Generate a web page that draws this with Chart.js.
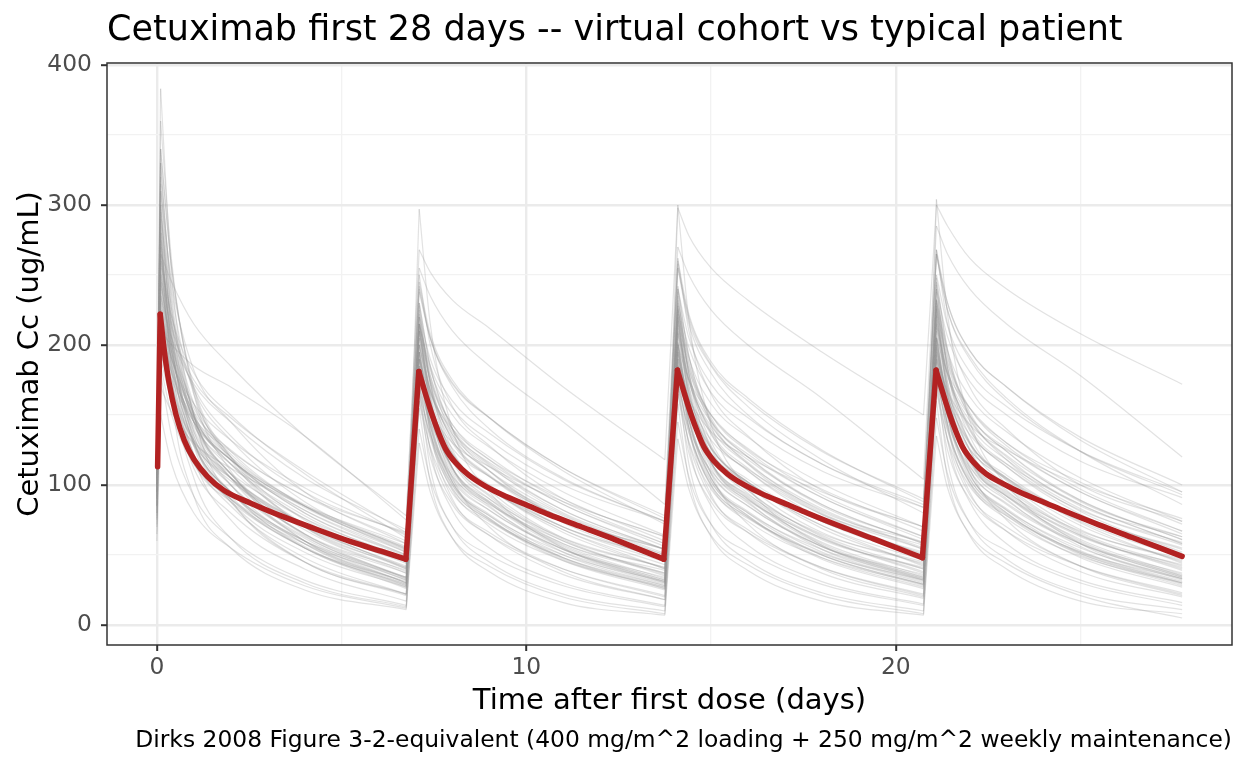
<!DOCTYPE html>
<html>
<head>
<meta charset="utf-8">
<script src="https://cdn.jsdelivr.net/npm/chart.js@4.4.1/dist/chart.umd.min.js"></script>
<style>
  body { margin: 0; background: #fff; }
  #wrap { width: 1248px; height: 768px; }
</style>
</head>
<body>
<div id="wrap"><canvas id="pkChart"></canvas></div>
<script>
// Texts
const chartTitle = 'Cetuximab first 28 days -- virtual cohort vs typical patient';
const xTitle = 'Time after first dose (days)';
const yTitle = 'Cetuximab Cc (ug/mL)';
const caption = 'Dirks 2008 Figure 3-2-equivalent (400 mg/m^2 loading + 250 mg/m^2 weekly maintenance)';

// Tick positions (labels on majors only)
const xTicks = [0, 5, 10, 15, 20, 25];
const yTicks = [0, 50, 100, 150, 200, 250, 300, 350, 400];

// Typical patient (red line)
const typicalTime = [0.02, 0.09, 0.2, 0.33, 0.51, 0.74, 1.01, 1.37, 1.82, 2.54, 3.45, 4.35, 5.25, 6.15, 6.74,
  7.09, 7.27, 7.45, 7.63, 7.81, 8.08, 8.44, 8.9, 9.35, 10.07, 10.6, 11.5, 12.4, 13.72,
  14.09, 14.27, 14.45, 14.63, 14.81, 15.08, 15.44, 15.9, 16.35, 17.07, 17.6, 18.5, 19.4, 20.72,
  21.09, 21.27, 21.45, 21.63, 21.81, 22.08, 22.44, 22.9, 23.35, 24.07, 24.6, 25.5, 26.4, 27.75];
const typicalConc = [113, 222, 196, 173, 151, 132, 118, 106, 96, 87, 77, 68, 59.5, 52, 47,
  181, 165, 150, 137, 126, 116, 107, 99, 93, 85, 79, 70, 61, 47,
  182, 166, 151, 138, 127, 117, 108, 100, 94, 86, 80, 70.5, 61.5, 48,
  182, 166, 151, 138, 127, 117, 108, 101, 95, 87, 81, 71.5, 62.5, 49];
const typicalPeakIdx = [1, 15, 29, 43];

// Virtual cohort: sampling times shared by every subject
const cohortTime = [0,
  0.1, 0.4, 1, 2, 4, 6.75,
  7.1, 7.4, 8, 9, 11, 13.75,
  14.1, 14.4, 15, 16, 18, 20.75,
  21.1, 21.4, 22, 23, 25, 27.75];
const cohortPeakIdx = [1, 7, 13, 19];

// one row per virtual patient, concentration at cohortTime
const cohort = [
  [100, 383,250,150,90,45,22, 215,155,105,70,38,18, 222,160,108,72,40,20, 228,165,112,75,42,21],
  [118, 320,240,165,120,75,45, 230,185,140,110,75,50, 240,192,146,115,80,54, 245,196,150,118,83,57],
  [85, 260,215,170,135,95,65, 240,205,170,140,105,74, 255,215,180,150,115,84, 265,225,190,160,124,93],
  [100, 240,185,130,95,60,30, 170,135,100,78,52,30, 175,138,102,80,54,32, 178,140,104,82,55,33],
  [128, 280,195,120,75,40,17, 180,125,82,55,30,14, 185,128,85,57,31,15, 190,132,88,58,32,16],
  [72, 200,175,145,118,85,55, 190,165,140,118,90,60, 200,175,150,125,97,67, 205,180,155,130,102,72],
  [112, 340,255,170,120,70,38, 228,172,120,92,60,37, 238,178,126,96,64,40, 243,182,130,100,66,42],
  [95, 230,190,148,118,80,50, 190,155,122,98,70,48, 195,160,126,102,74,52, 200,164,130,105,77,55],
  [105, 300,205,128,88,52,27, 195,145,102,76,48,27, 200,148,105,78,50,29, 205,152,108,80,52,30],
  [80, 265,245,215,185,135,78, 255,235,210,185,145,86, 270,250,225,200,162,104, 285,265,240,215,178,120],
  [125, 270,185,122,90,58,34, 190,145,106,82,54,34, 195,148,109,85,56,36, 198,150,111,86,58,37],
  [90, 220,165,112,80,45,22, 160,120,86,64,40,21, 165,123,88,66,41,22, 168,125,90,67,42,23],
  [110, 330,235,150,108,65,37, 220,163,117,90,58,37, 228,170,122,94,62,40, 232,173,125,96,64,41],
  [75, 190,160,128,105,72,45, 170,145,117,98,70,47, 178,150,122,102,74,51, 182,154,125,105,77,54],
  [100, 260,220,180,150,108,62, 245,208,175,148,110,72, 258,218,185,156,118,80, 265,225,192,162,124,86],
  [120, 290,180,105,62,30,13, 170,112,70,45,22,10, 175,115,72,46,23,10, 178,117,73,47,23,11],
  [85, 245,195,138,105,65,39, 190,150,112,88,58,39, 198,155,116,92,61,41, 200,157,118,94,63,43],
  [128, 310,245,182,145,95,58, 250,200,156,128,90,63, 262,210,165,135,96,70, 268,215,170,140,100,74],
  [95, 210,180,148,124,92,66, 215,185,155,132,100,74, 230,198,166,142,110,84, 240,206,174,150,117,91],
  [105, 275,200,132,95,55,29, 185,138,96,72,46,27, 190,141,99,74,48,29, 193,143,101,76,49,30],
  [65, 180,135,92,62,32,14, 140,104,70,50,28,13, 145,106,72,52,29,14, 148,108,73,53,30,14],
  [115, 340,255,168,118,70,41, 225,173,125,96,62,41, 235,180,131,100,66,45, 240,184,135,103,68,47],
  [90, 235,205,172,145,105,68, 238,205,173,148,112,78, 255,220,186,160,124,90, 265,230,196,170,134,100],
  [100, 265,220,168,132,88,54, 220,178,136,110,76,54, 232,188,144,116,81,59, 238,193,148,120,85,63],
  [125, 300,210,132,88,45,21, 195,138,90,64,36,18, 200,141,93,66,37,19, 204,143,95,67,38,20],
  [80, 225,190,158,132,98,64, 222,190,160,137,104,74, 240,205,172,148,115,86, 250,214,181,156,124,95],
  [110, 255,205,158,124,85,54, 210,168,130,106,76,54, 220,175,136,110,79,57, 225,179,139,113,82,59],
  [95, 215,170,122,90,55,31, 170,133,97,75,50,31, 175,137,100,77,51,32, 178,139,102,79,52,33],
  [118, 295,225,158,120,80,49, 230,184,140,114,80,54, 242,192,148,120,85,59, 248,197,152,124,88,63],
  [70, 170,152,130,112,85,58, 175,153,130,113,88,63, 185,162,138,120,95,70, 190,167,143,125,100,76],
  [100, 245,200,146,112,72,41, 195,153,112,90,62,41, 202,158,116,93,65,44, 206,161,119,95,67,46],
  [135, 280,165,92,55,25,11, 155,102,62,38,16,7, 158,104,63,39,17,7, 160,105,64,40,17,8],
  [85, 210,200,185,170,135,75, 268,252,232,212,170,118, 298,278,255,232,195,150, 300,285,262,240,208,172],
  [105, 250,212,175,148,110,66, 242,205,172,148,112,76, 260,222,188,162,125,88, 268,230,196,170,132,95],
  [60, 150,115,80,55,28,12, 130,95,62,42,20,8, 133,97,64,43,21,8, 135,98,65,44,21,5],
  [110, 360,260,165,110,60,30, 297,215,140,95,55,30, 300,218,143,98,57,32, 304,222,146,100,58,33],
  [95, 250,195,140,105,72,40, 200,160,122,98,68,40, 208,166,127,102,71,42, 212,170,130,105,73,44],
  [108, 290,210,145,105,65,33, 205,155,112,88,56,32, 212,160,116,91,58,34, 216,163,118,93,60,35],
  [88, 215,180,142,115,82,52, 200,168,138,116,86,56, 210,176,145,122,91,61, 215,180,149,126,95,65],
  [102, 235,180,128,95,60,32, 180,142,104,82,54,31, 186,146,108,85,56,33, 190,149,110,87,58,34],
  [120, 310,220,145,100,58,28, 200,148,102,78,48,26, 206,152,105,80,50,28, 210,155,108,82,51,29],
  [78, 195,165,132,108,76,48, 182,155,126,106,78,50, 190,162,132,111,82,54, 195,166,136,115,86,58],
  [115, 275,205,145,108,70,40, 210,165,123,98,66,40, 218,171,128,102,69,43, 222,174,131,104,71,45],
  [92, 225,185,145,118,85,55, 210,175,143,120,88,58, 220,183,150,126,93,63, 226,188,155,130,97,67],
  [105, 255,190,130,92,55,26, 180,138,98,75,46,25, 185,141,100,77,47,26, 188,143,102,78,48,27],
  [98, 245,200,155,122,85,52, 215,175,140,115,82,54, 225,183,146,120,86,58, 230,187,150,124,89,61],
  [130, 330,230,150,105,60,30, 215,160,112,85,52,29, 222,165,116,88,54,31, 226,168,118,90,56,32],
  [82, 205,170,130,103,70,42, 180,150,118,97,68,43, 188,156,123,101,71,46, 192,160,126,104,74,48],
  [110, 265,205,150,115,78,46, 215,172,132,107,75,47, 224,179,138,112,79,50, 228,183,141,115,81,52],
  [90, 230,175,120,85,48,22, 165,126,88,66,40,20, 170,130,91,68,41,21, 173,132,93,70,42,22],
  [100, 240,195,150,120,86,56, 215,178,143,118,86,58, 226,186,150,124,91,63, 232,191,155,128,95,67],
  [122, 300,215,148,108,68,37, 210,162,118,93,61,36, 217,167,122,96,63,38, 221,170,125,98,65,40],
  [86, 210,172,132,105,72,44, 185,153,121,100,70,45, 193,160,126,104,74,48, 197,163,129,107,76,50],
  [112, 270,200,138,100,62,32, 195,150,108,84,54,31, 201,155,112,87,56,33, 205,158,114,89,58,34],
  [95, 225,190,152,125,92,60, 215,182,150,127,95,64, 226,191,158,134,101,70, 232,196,163,138,105,74],
  [104, 250,188,130,95,58,29, 185,142,102,79,50,28, 190,146,105,81,52,30, 194,149,107,83,53,31],
  [118, 285,215,152,115,76,45, 220,174,132,106,73,46, 228,180,137,110,76,49, 233,184,140,113,79,51],
  [84, 200,158,115,88,55,28, 160,127,94,74,48,28, 165,131,97,76,50,29, 168,133,99,78,51,30],
  [100, 235,192,148,118,82,50, 205,168,134,110,79,51, 214,175,140,115,83,55, 218,179,143,118,86,58],
  [126, 315,225,150,108,64,33, 210,158,112,87,55,32, 217,163,116,90,57,34, 221,166,118,92,59,35],
  [92, 218,182,145,118,84,53, 200,167,136,113,82,54, 209,174,142,118,86,58, 214,178,146,121,89,61],
  [108, 260,195,135,100,63,34, 195,152,110,87,57,33, 201,156,114,90,59,35, 205,159,116,92,61,36],
  [76, 185,150,115,90,60,34, 165,136,106,86,60,35, 171,141,110,89,62,37, 175,144,113,92,64,39],
  [114, 280,200,135,95,56,27, 190,142,100,76,47,26, 195,146,103,78,48,27, 199,149,105,80,50,28]
];

const FONT = 'DejaVu Sans';

// Split one profile into smooth decay pieces (peak -> trough) and straight dose rises
function splitProfile(times, values, peakIdx) {
  const decay = [], rise = [];
  peakIdx.forEach((p, k) => {
    const end = k + 1 < peakIdx.length ? peakIdx[k + 1] : times.length;
    for (let i = p; i < end; i++) decay.push({ x: times[i], y: values[i] });
    decay.push({ x: times[end - 1], y: null });
    rise.push({ x: times[p - 1], y: values[p - 1] }, { x: times[p], y: values[p] }, { x: times[p], y: null });
  });
  return { decay, rise };
}

function lineSets(times, values, peakIdx, style) {
  const { decay, rise } = splitProfile(times, values, peakIdx);
  return [
    { ...style, data: decay, cubicInterpolationMode: 'monotone' },
    { ...style, data: rise, tension: 0 }
  ];
}

const cohortStyle = { borderColor: 'rgba(150,150,150,0.28)', borderWidth: 1.2, pointRadius: 0, spanGaps: false, order: 1 };
const typicalStyle = { borderColor: '#b22222', borderWidth: 5.5, pointRadius: 0, spanGaps: false, borderJoinStyle: 'round', borderCapStyle: 'round', order: 0 };

const datasets = [
  ...lineSets(typicalTime, typicalConc, typicalPeakIdx, typicalStyle),
  ...cohort.flatMap(row => lineSets(cohortTime, row, cohortPeakIdx, cohortStyle))
];

// Panel border + free texts
const decorations = {
  id: 'decorations',
  afterDatasetsDraw(chart) {
    const { ctx, chartArea: a } = chart;
    ctx.save();
    ctx.strokeStyle = '#333333';
    ctx.lineWidth = 1.5;
    ctx.strokeRect(a.left, a.top, a.right - a.left, a.bottom - a.top);
    ctx.restore();
  },
  afterDraw(chart) {
    const { ctx, chartArea: a } = chart;
    ctx.save();
    ctx.fillStyle = '#000';
    ctx.textBaseline = 'middle';

    ctx.font = `35px "${FONT}"`;
    ctx.textAlign = 'left';
    ctx.fillText(chartTitle, a.left, 31);

    ctx.font = `29px "${FONT}"`;
    ctx.textAlign = 'center';
    ctx.fillText(xTitle, (a.left + a.right) / 2, 701);

    ctx.save();
    ctx.translate(30, (a.top + a.bottom) / 2);
    ctx.rotate(-Math.PI / 2);
    ctx.fillText(yTitle, 0, 0);
    ctx.restore();

    ctx.font = `23.4px "${FONT}"`;
    ctx.textAlign = 'right';
    ctx.fillText(caption, a.right, 741);
    ctx.restore();
  }
};

new Chart(document.getElementById('pkChart'), {
  type: 'line',
  data: { datasets },
  options: {
    responsive: true,
    maintainAspectRatio: false,
    animation: false,
    layout: { padding: { top: 63, right: 16, bottom: 0, left: 0 } },
    plugins: {
      legend: { display: false },
      tooltip: { enabled: false }
    },
    scales: {
      x: {
        type: 'linear',
        min: -1.35,
        max: 29.1,
        afterFit: s => { s.height = 123; },
        afterBuildTicks: s => { s.ticks = xTicks.map(v => ({ value: v })); },
        border: { display: false },
        grid: {
          color: c => c.tick && c.tick.value % 10 === 0 ? '#ebebeb' : '#f2f2f2',
          lineWidth: c => c.tick && c.tick.value % 10 === 0 ? 2.4 : 1.3,
          tickColor: c => c.tick && c.tick.value % 10 === 0 ? '#333333' : 'rgba(0,0,0,0)',
          tickLength: 6,
          tickWidth: 2
        },
        ticks: {
          font: { family: FONT, size: 23.4 },
          color: '#4d4d4d',
          padding: 3,
          maxRotation: 0,
          autoSkip: false,
          callback: v => v % 10 === 0 ? String(v) : ''
        }
      },
      y: {
        type: 'linear',
        min: -14.3,
        max: 401.4,
        afterFit: s => { s.width = 107; },
        afterBuildTicks: s => { s.ticks = yTicks.map(v => ({ value: v })); },
        border: { display: false },
        grid: {
          color: c => c.tick && c.tick.value % 100 === 0 ? '#ebebeb' : '#f2f2f2',
          lineWidth: c => c.tick && c.tick.value % 100 === 0 ? 2.4 : 1.3,
          tickColor: c => c.tick && c.tick.value % 100 === 0 ? '#333333' : 'rgba(0,0,0,0)',
          tickLength: 6,
          tickWidth: 2
        },
        ticks: {
          font: { family: FONT, size: 23.4 },
          color: '#4d4d4d',
          padding: 9,
          autoSkip: false,
          callback: v => v % 100 === 0 ? String(v) : ''
        }
      }
    }
  },
  plugins: [decorations]
});
</script>
</body>
</html>
